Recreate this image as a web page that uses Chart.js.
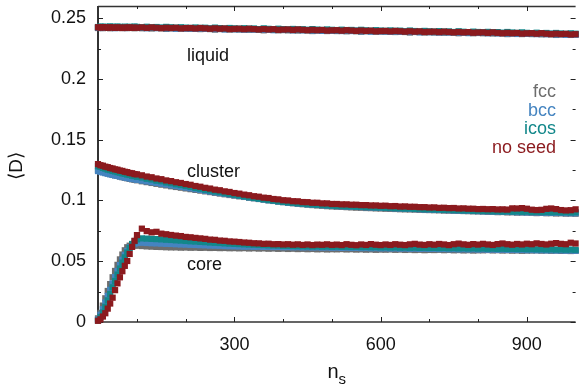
<!DOCTYPE html>
<html>
<head>
<meta charset="utf-8">
<script src="https://cdn.jsdelivr.net/npm/chart.js@4.4.1/dist/chart.umd.min.js"></script>
<style>
  html, body { margin: 0; padding: 0; background: #fff; }
</style>
</head>
<body>
<canvas id="dChart" width="580" height="388"></canvas>
<script>
// cluster size n_s (x values shared by every curve)
const ns = [20,25,30,35,40,45,50,55,60,65,70,75,80,85,90,95,100,
  110,120,130,140,150,160,170,180,190,200,
  210,220,230,240,250,260,270,280,290,300,
  310,320,330,340,350,360,370,380,390,400,
  410,420,430,440,450,460,470,480,490,500,
  510,520,530,540,550,560,570,580,590,600,
  610,620,630,640,650,660,670,680,690,700,
  710,720,730,740,750,760,770,780,790,800,
  810,820,830,840,850,860,870,880,890,900,
  910,920,930,940,950,960,970,980,990,1000];

const xTicks = [300, 600, 900];
const xMinor = [100, 200, 400, 500, 700, 800];
const yTicks = [0, 0.05, 0.1, 0.15, 0.2, 0.25];
const yTickLabels = ['0', '0.05', '0.1', '0.15', '0.2', '0.25'];
const yMinor = [0.025, 0.075, 0.125, 0.175, 0.225];

// --- no seed ---
const noSeedLiquid = [.2425,.2422,.2426,.2424,.2421,.2425,.2423,.2420,.2424,.2422,.2419,.2423,.2421,.2424,.2420,.2422,.2421,
  .2424,.2420,.2424,.2421,.2418,.2421,.2419,.2421,.2416,.2418,
  .2419,.2415,.2419,.2416,.2413,.2416,.2413,.2415,.2410,.2412,
  .2413,.2409,.2413,.2410,.2407,.2410,.2407,.2409,.2404,.2406,
  .2407,.2403,.2407,.2404,.2401,.2404,.2401,.2403,.2398,.2400,
  .2401,.2397,.2401,.2398,.2395,.2398,.2395,.2397,.2392,.2394,
  .2395,.2391,.2395,.2392,.2389,.2392,.2389,.2391,.2386,.2388,
  .2389,.2385,.2389,.2386,.2383,.2386,.2383,.2385,.2380,.2382,
  .2383,.2379,.2383,.2379,.2376,.2379,.2376,.2378,.2373,.2375,
  .2376,.2372,.2376,.2372,.2369,.2372,.2369,.2371,.2366,.2368];
const noSeedCluster = [.1299,.1290,.1286,.1278,.1274,.1267,.1263,.1256,.1253,.1246,.1243,.1236,.1233,.1226,.1224,.1217,.1215,
  .1207,.1197,.1191,.1181,.1175,.1165,.1159,.1150,.1144,.1135,
  .1129,.1119,.1113,.1104,.1098,.1089,.1084,.1075,.1070,.1061,
  .1056,.1048,.1043,.1035,.1031,.1023,.1020,.1012,.1009,.1002,
  .1000,.0994,.0993,.0987,.0986,.0981,.0981,.0976,.0976,.0971,
  .0971,.0968,.0968,.0965,.0965,.0962,.0962,.0959,.0959,.0956,
  .0957,.0953,.0954,.0950,.0951,.0948,.0948,.0945,.0945,.0942,
  .0943,.0939,.0940,.0937,.0938,.0934,.0935,.0932,.0932,.0929,
  .0930,.0928,.0929,.0926,.0927,.0925,.0935,.0934,.0937,.0932,
  .0924,.0921,.0923,.0931,.0934,.0929,.0921,.0918,.0920,.0927];
const noSeedCore = [.0010,.0022,.0045,.0072,.0110,.0152,.0200,.0262,.0318,.0368,.0418,.0462,.0502,.0560,.0618,.0668,.0715,
  .0768,.0748,.0738,.0742,.0727,.0722,.0716,.0711,.0707,.0700,
  .0697,.0692,.0688,.0684,.0678,.0676,.0670,.0668,.0663,.0661,
  .0658,.0654,.0652,.0648,.0647,.0643,.0644,.0640,.0641,.0638,
  .0640,.0636,.0639,.0634,.0638,.0633,.0637,.0635,.0639,.0634,
  .0637,.0633,.0640,.0635,.0632,.0638,.0634,.0641,.0636,.0633,
  .0638,.0634,.0640,.0636,.0633,.0639,.0643,.0637,.0634,.0640,
  .0636,.0642,.0638,.0633,.0640,.0645,.0639,.0635,.0641,.0637,
  .0643,.0638,.0634,.0641,.0646,.0640,.0636,.0642,.0638,.0644,
  .0640,.0647,.0642,.0638,.0644,.0649,.0643,.0640,.0652,.0646];

// --- icos ---
const icosLiquid = [.2427,.2431,.2428,.2430,.2426,.2432,.2429,.2427,.2431,.2428,.2426,.2430,.2427,.2429,.2425,.2431,.2428,
  .2425,.2429,.2425,.2427,.2423,.2428,.2425,.2422,.2425,.2422,
  .2420,.2423,.2420,.2421,.2416,.2422,.2418,.2415,.2419,.2416,
  .2414,.2417,.2414,.2415,.2410,.2416,.2412,.2409,.2413,.2410,
  .2408,.2411,.2408,.2409,.2404,.2410,.2406,.2403,.2407,.2404,
  .2402,.2405,.2402,.2403,.2398,.2404,.2400,.2397,.2401,.2398,
  .2396,.2399,.2396,.2397,.2392,.2398,.2394,.2391,.2395,.2392,
  .2390,.2393,.2390,.2391,.2386,.2392,.2388,.2385,.2389,.2386,
  .2384,.2387,.2384,.2385,.2380,.2386,.2382,.2379,.2383,.2379,
  .2377,.2380,.2377,.2378,.2373,.2378,.2374,.2371,.2375,.2372];
const icosCluster = [.1282,.1276,.1268,.1262,.1254,.1250,.1243,.1239,.1233,.1229,.1223,.1220,.1213,.1210,.1204,.1201,.1195,
  .1189,.1179,.1173,.1163,.1158,.1148,.1142,.1133,.1127,.1119,
  .1112,.1103,.1097,.1088,.1082,.1074,.1068,.1060,.1054,.1047,
  .1040,.1034,.1027,.1021,.1015,.1010,.1004,.0999,.0993,.0989,
  .0984,.0981,.0977,.0974,.0970,.0968,.0965,.0963,.0960,.0958,
  .0955,.0955,.0952,.0952,.0949,.0949,.0946,.0946,.0943,.0943,
  .0940,.0940,.0937,.0937,.0934,.0935,.0931,.0932,.0928,.0929,
  .0926,.0926,.0923,.0924,.0921,.0921,.0918,.0919,.0915,.0916,
  .0913,.0914,.0911,.0912,.0909,.0911,.0908,.0910,.0907,.0909,
  .0905,.0907,.0904,.0906,.0903,.0905,.0902,.0904,.0901,.0903];
const icosCore = [.0012,.0040,.0078,.0125,.0178,.0230,.0285,.0338,.0390,.0440,.0488,.0532,.0572,.0610,.0642,.0665,.0680,
  .0688,.0686,.0684,.0682,.0680,.0677,.0675,.0672,.0670,.0667,
  .0664,.0662,.0659,.0657,.0654,.0652,.0650,.0647,.0645,.0643,
  .0641,.0639,.0637,.0636,.0634,.0633,.0631,.0630,.0629,.0627,
  .0626,.0625,.0624,.0623,.0622,.0621,.0622,.0620,.0621,.0619,
  .0620,.0618,.0619,.0617,.0618,.0616,.0617,.0615,.0616,.0614,
  .0615,.0613,.0614,.0612,.0613,.0611,.0612,.0610,.0611,.0609,
  .0610,.0608,.0609,.0607,.0608,.0606,.0607,.0605,.0606,.0604,
  .0605,.0603,.0604,.0602,.0603,.0601,.0602,.0600,.0601,.0599,
  .0600,.0598,.0599,.0597,.0598,.0596,.0597,.0595,.0596,.0594];

// --- bcc ---
const bccLiquid = [.2422,.2419,.2423,.2421,.2424,.2420,.2422,.2418,.2423,.2421,.2422,.2419,.2423,.2421,.2424,.2420,.2422,
  .2420,.2417,.2420,.2418,.2420,.2416,.2418,.2413,.2418,.2415,
  .2415,.2412,.2415,.2412,.2415,.2410,.2412,.2407,.2412,.2409,
  .2409,.2406,.2409,.2406,.2409,.2404,.2406,.2401,.2406,.2403,
  .2403,.2400,.2403,.2400,.2403,.2398,.2400,.2395,.2400,.2397,
  .2397,.2394,.2397,.2394,.2397,.2392,.2394,.2389,.2394,.2391,
  .2391,.2388,.2391,.2388,.2391,.2386,.2388,.2383,.2388,.2385,
  .2385,.2382,.2385,.2382,.2385,.2380,.2382,.2377,.2382,.2379,
  .2379,.2376,.2379,.2375,.2378,.2373,.2375,.2370,.2375,.2372,
  .2372,.2369,.2372,.2368,.2371,.2366,.2368,.2363,.2368,.2365];
const bccCluster = [.1242,.1236,.1230,.1225,.1220,.1215,.1210,.1206,.1202,.1197,.1193,.1189,.1185,.1181,.1177,.1174,.1170,
  .1163,.1157,.1150,.1144,.1137,.1131,.1124,.1118,.1112,.1106,
  .1100,.1093,.1087,.1080,.1074,.1067,.1061,.1055,.1049,.1043,
  .1037,.1031,.1025,.1019,.1013,.1008,.1002,.0997,.0992,.0987,
  .0982,.0979,.0975,.0972,.0968,.0966,.0963,.0961,.0958,.0956,
  .0953,.0952,.0950,.0949,.0947,.0946,.0944,.0943,.0941,.0940,
  .0938,.0937,.0935,.0934,.0932,.0931,.0929,.0928,.0926,.0925,
  .0923,.0922,.0921,.0920,.0918,.0917,.0916,.0915,.0913,.0912,
  .0911,.0910,.0909,.0908,.0907,.0906,.0905,.0904,.0903,.0902,
  .0902,.0901,.0900,.0899,.0898,.0898,.0897,.0896,.0895,.0895];
const bccCore = [.0020,.0060,.0105,.0160,.0215,.0265,.0318,.0370,.0420,.0468,.0512,.0552,.0585,.0615,.0635,.0645,.0650,
  .0652,.0650,.0648,.0647,.0645,.0643,.0642,.0640,.0638,.0637,
  .0635,.0634,.0632,.0631,.0629,.0628,.0627,.0625,.0624,.0623,
  .0622,.0620,.0621,.0619,.0620,.0618,.0619,.0617,.0618,.0616,
  .0617,.0615,.0616,.0614,.0615,.0613,.0614,.0612,.0613,.0611,
  .0612,.0610,.0611,.0609,.0610,.0608,.0609,.0607,.0608,.0606,
  .0607,.0605,.0606,.0604,.0605,.0603,.0604,.0602,.0603,.0601,
  .0602,.0600,.0601,.0599,.0600,.0598,.0599,.0597,.0598,.0596,
  .0597,.0595,.0596,.0594,.0595,.0593,.0594,.0592,.0593,.0591,
  .0592,.0590,.0591,.0589,.0590,.0588,.0589,.0587,.0588,.0586];

// --- fcc ---
const fccLiquid = [.2419,.2421,.2418,.2422,.2420,.2417,.2421,.2422,.2419,.2420,.2419,.2421,.2418,.2422,.2420,.2417,.2421,
  .2417,.2419,.2415,.2419,.2416,.2412,.2416,.2416,.2413,.2414,
  .2412,.2413,.2410,.2413,.2410,.2406,.2410,.2410,.2406,.2408,
  .2406,.2407,.2404,.2407,.2404,.2400,.2404,.2404,.2400,.2402,
  .2400,.2401,.2398,.2401,.2398,.2394,.2398,.2398,.2394,.2396,
  .2394,.2395,.2392,.2395,.2392,.2388,.2392,.2392,.2388,.2390,
  .2388,.2389,.2386,.2389,.2386,.2382,.2386,.2386,.2382,.2384,
  .2382,.2383,.2380,.2383,.2380,.2376,.2380,.2380,.2376,.2378,
  .2376,.2377,.2374,.2376,.2373,.2369,.2373,.2373,.2369,.2371,
  .2369,.2370,.2367,.2369,.2366,.2362,.2366,.2366,.2362,.2364];
const fccCluster = [.1250,.1243,.1236,.1230,.1224,.1218,.1212,.1207,.1202,.1197,.1192,.1187,.1183,.1178,.1174,.1170,.1166,
  .1158,.1151,.1144,.1137,.1130,.1124,.1117,.1111,.1105,.1099,
  .1093,.1087,.1081,.1075,.1069,.1063,.1057,.1051,.1045,.1040,
  .1034,.1029,.1023,.1018,.1012,.1007,.1001,.0996,.0991,.0986,
  .0981,.0977,.0973,.0969,.0966,.0962,.0959,.0956,.0953,.0951,
  .0949,.0947,.0945,.0943,.0941,.0940,.0938,.0937,.0935,.0934,
  .0932,.0931,.0930,.0928,.0927,.0926,.0925,.0923,.0922,.0921,
  .0920,.0919,.0917,.0916,.0915,.0914,.0913,.0912,.0911,.0910,
  .0909,.0906,.0907,.0904,.0905,.0902,.0903,.0900,.0901,.0900,
  .0899,.0896,.0898,.0895,.0896,.0893,.0895,.0892,.0893,.0891];
const fccCore = [.0030,.0075,.0135,.0195,.0255,.0312,.0368,.0420,.0470,.0515,.0555,.0590,.0615,.0628,.0632,.0630,.0628,
  .0625,.0622,.0620,.0618,.0617,.0615,.0614,.0614,.0612,.0613,
  .0611,.0612,.0610,.0611,.0609,.0610,.0608,.0609,.0607,.0608,
  .0606,.0608,.0605,.0607,.0604,.0606,.0603,.0605,.0602,.0604,
  .0601,.0603,.0600,.0602,.0599,.0601,.0598,.0600,.0597,.0599,
  .0598,.0600,.0597,.0599,.0596,.0598,.0595,.0597,.0594,.0596,
  .0595,.0597,.0594,.0596,.0593,.0595,.0592,.0594,.0591,.0593,
  .0592,.0594,.0591,.0593,.0590,.0592,.0589,.0591,.0588,.0590,
  .0590,.0592,.0589,.0591,.0588,.0590,.0587,.0589,.0586,.0588,
  .0588,.0590,.0587,.0589,.0586,.0588,.0585,.0587,.0584,.0586];

const FONT = "'Liberation Sans', Arial, Helvetica, sans-serif";

// first entry is drawn last (on top)
const series = [
  { label: 'no seed', color: '#8b1a1e', curves: [noSeedLiquid, noSeedCluster, noSeedCore] },
  { label: 'icos', color: '#12878a', curves: [icosLiquid, icosCluster, icosCore] },
  { label: 'bcc', color: '#4584c0', curves: [bccLiquid, bccCluster, bccCore] },
  { label: 'fcc', color: '#6d6d6d', curves: [fccLiquid, fccCluster, fccCore] }
];

const datasets = series.map(s => ({
  label: s.label,
  data: s.curves.flatMap(c => c.map((v, i) => ({ x: ns[i], y: v }))),
  showLine: false,
  pointStyle: 'rect',
  pointRadius: 4.4,
  pointBorderWidth: 0,
  backgroundColor: s.color,
  borderColor: s.color,
  clip: 8
}));

// frame, inward ticks, labels
const decor = {
  id: 'decor',
  beforeDatasetsDraw(chart) {
    const { ctx, chartArea: a, scales: { x, y } } = chart;
    ctx.save();
    ctx.strokeStyle = '#333';
    ctx.lineWidth = 2;
    ctx.beginPath();
    ctx.moveTo(a.left, a.top); ctx.lineTo(a.left, a.bottom);
    ctx.stroke();
    ctx.lineWidth = 1.5;
    ctx.beginPath();
    ctx.moveTo(a.left, a.bottom); ctx.lineTo(a.right, a.bottom);
    ctx.moveTo(a.left, a.top + 0.5); ctx.lineTo(a.right, a.top + 0.5);
    ctx.stroke();

    ctx.lineWidth = 1;
    ctx.strokeStyle = '#222';
    ctx.beginPath();
    const xt = (v, len) => {
      const px = Math.round(x.getPixelForValue(v)) + 0.5;
      ctx.moveTo(px, a.bottom); ctx.lineTo(px, a.bottom - len);
      ctx.moveTo(px, a.top); ctx.lineTo(px, a.top + len);
    };
    const yt = (v, len) => {
      const py = Math.round(y.getPixelForValue(v)) + 0.5;
      ctx.moveTo(a.left, py); ctx.lineTo(a.left + len, py);
      ctx.moveTo(a.right, py); ctx.lineTo(a.right - len, py);
    };
    xTicks.forEach(v => xt(v, 5));
    xMinor.forEach(v => xt(v, 3));
    yTicks.forEach(v => yt(v, 5));
    yMinor.forEach(v => yt(v, 3));
    ctx.stroke();
    ctx.restore();
  },
  afterDraw(chart) {
    const { ctx, chartArea: a } = chart;
    ctx.save();
    ctx.font = '18px ' + FONT;
    ctx.textBaseline = 'middle';
    ctx.fillStyle = '#111';
    ctx.textAlign = 'left';
    ctx.fillText('liquid', 187, 56);
    ctx.fillText('cluster', 187, 172);
    ctx.fillText('core', 187, 265);

    // legend, right aligned
    ctx.textAlign = 'right';
    const legendOrder = [3, 2, 1, 0];
    legendOrder.forEach((k, i) => {
      ctx.fillStyle = series[k].color;
      ctx.fillText(series[k].label, 556, 92 + i * 18.7);
    });

    // axis titles
    ctx.fillStyle = '#111';
    ctx.textAlign = 'left';
    ctx.textBaseline = 'alphabetic';
    ctx.font = '20px ' + FONT;
    const nW = ctx.measureText('n').width;
    ctx.font = '15px ' + FONT;
    const sW = ctx.measureText('s').width;
    const tx = (a.left + a.right) / 2 - (nW + sW) / 2;
    ctx.font = '20px ' + FONT;
    ctx.fillText('n', tx, 378);
    ctx.font = '15px ' + FONT;
    ctx.fillText('s', tx + nW, 384);

    ctx.translate(17, 166);
    ctx.rotate(-Math.PI / 2);
    ctx.textAlign = 'center';
    ctx.textBaseline = 'middle';
    ctx.font = '19px ' + FONT;
    ctx.fillText('\u27E8D\u27E9', 0, 0);
    ctx.restore();
  }
};

new Chart(document.getElementById('dChart'), {
  type: 'scatter',
  data: { datasets },
  options: {
    responsive: false,
    animation: false,
    devicePixelRatio: 1,
    layout: { padding: { top: 6, left: 0, right: 0, bottom: 0 } },
    plugins: { legend: { display: false }, tooltip: { enabled: false } },
    scales: {
      x: {
        type: 'linear',
        min: 20,
        max: 1000,
        grid: { display: false, drawTicks: false },
        border: { display: false },
        afterBuildTicks: s => { s.ticks = xTicks.map(v => ({ value: v })); },
        afterFit: s => { s.height = 66; },
        ticks: { padding: 12, color: '#111', font: { family: FONT, size: 18 }, maxRotation: 0 }
      },
      y: {
        type: 'linear',
        min: 0,
        max: 0.26,
        grid: { display: false, drawTicks: false },
        border: { display: false },
        afterBuildTicks: s => { s.ticks = yTicks.map(v => ({ value: v })); },
        afterFit: s => { s.width = 98; s.paddingTop = 0; s.paddingBottom = 0; },
        ticks: {
          padding: 12,
          color: '#111',
          font: { family: FONT, size: 18 },
          callback: (v, i) => yTickLabels[i]
        }
      }
    }
  },
  plugins: [decor]
});
</script>
</body>
</html>
